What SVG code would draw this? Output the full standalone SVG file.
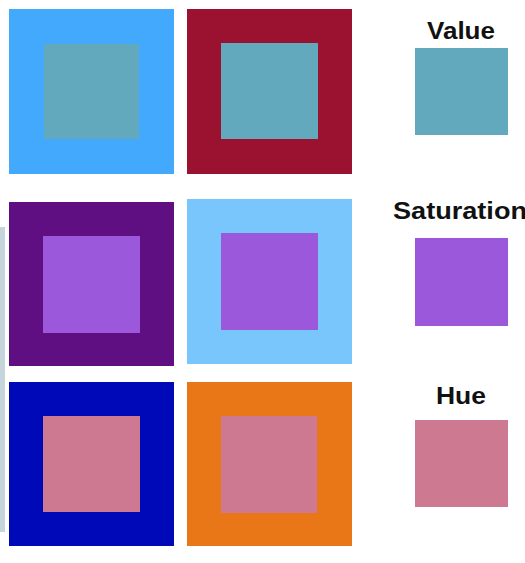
<svg xmlns="http://www.w3.org/2000/svg" width="525" height="563" viewBox="0 0 525 563">
<style>
.lbl{font-family:"Liberation Sans",Arial,sans-serif;font-weight:bold;font-size:24px;fill:#111;}
.teal{fill:#63a9bd;}
.vio{fill:#9c58db;}
.pink{fill:#cc7991;}
</style>
<rect width="525" height="563" fill="#ffffff"/>
<rect x="0" y="227" width="5" height="305" fill="#c6d5db"/>
<g id="value-row">
<g id="blue-square"><rect x="9" y="9" width="165" height="165" fill="#42a9fd"/><rect class="teal" x="44" y="44" width="95" height="95"/></g>
<g id="red-square"><rect x="187" y="9" width="165" height="165" fill="#9b1230"/><rect class="teal" x="221" y="43" width="97" height="96"/></g>
<g id="value-swatch"><text class="lbl" x="461" y="39" text-anchor="middle" textLength="68" lengthAdjust="spacingAndGlyphs">Value</text><rect class="teal" x="415" y="48" width="93" height="87"/></g>
</g>
<g id="saturation-row">
<g id="purple-square"><rect x="9" y="202" width="165" height="164" fill="#5f0f82"/><rect class="vio" x="43" y="236" width="97" height="97"/></g>
<g id="lightblue-square"><rect x="187" y="199" width="165" height="165" fill="#78c6fc"/><rect class="vio" x="221" y="233" width="97" height="97"/></g>
<g id="saturation-swatch"><text class="lbl" x="393" y="219" textLength="134" lengthAdjust="spacingAndGlyphs">Saturation</text><rect class="vio" x="415" y="238" width="93" height="88"/></g>
</g>
<g id="hue-row">
<g id="navy-square"><rect x="9" y="382" width="165" height="164" fill="#0009b8"/><rect class="pink" x="43" y="416" width="97" height="96"/></g>
<g id="orange-square"><rect x="187" y="382" width="165" height="164" fill="#e97717"/><rect class="pink" x="221" y="416" width="96" height="97"/></g>
<g id="hue-swatch"><text class="lbl" x="461" y="404" text-anchor="middle" textLength="50" lengthAdjust="spacingAndGlyphs">Hue</text><rect class="pink" x="415" y="420" width="93" height="87"/></g>
</g>
<g id="connectors"></g>
</svg>
